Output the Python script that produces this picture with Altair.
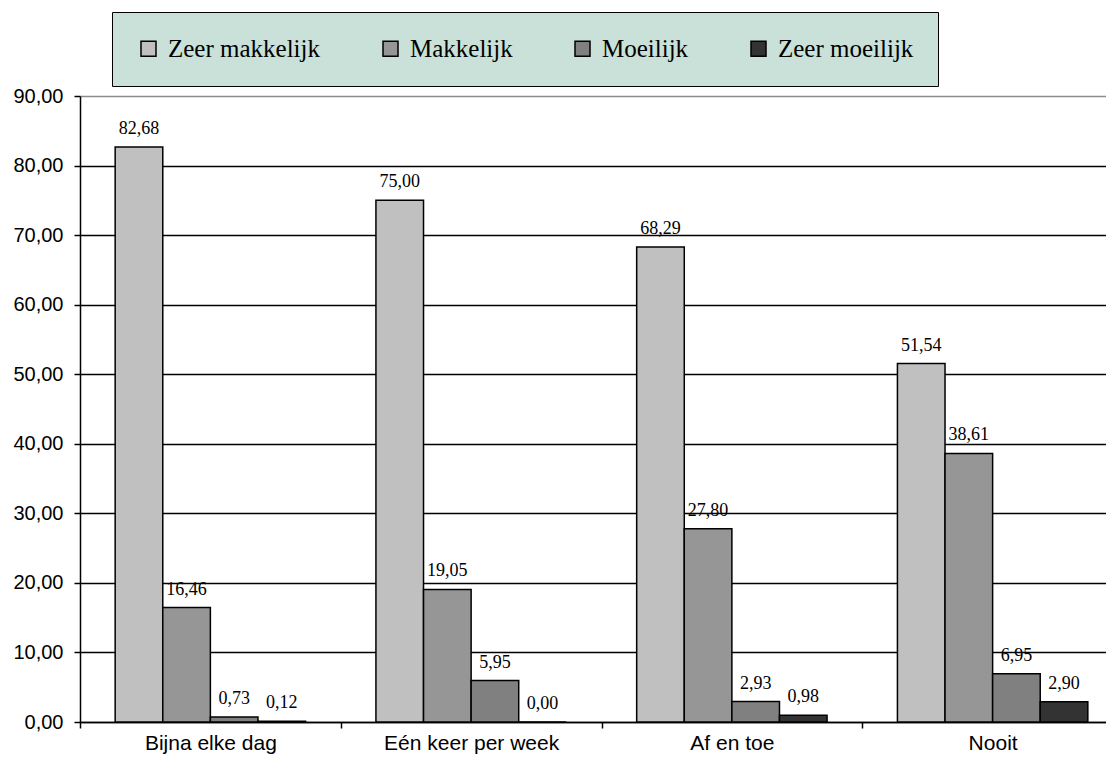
import altair as alt
import pandas as pd

categories = ["Bijna elke dag", "Eén keer per week", "Af en toe", "Nooit"]
series = ["Zeer makkelijk", "Makkelijk", "Moeilijk", "Zeer moeilijk"]
zeer_makkelijk = [82.68, 75.00, 68.29, 51.54]
makkelijk = [16.46, 19.05, 27.80, 38.61]
moeilijk = [0.73, 5.95, 2.93, 6.95]
zeer_moeilijk = [0.12, 0.00, 0.98, 2.90]
colors = ["#C0C0C0", "#969696", "#808080", "#333333"]
y_ticks = [0, 10, 20, 30, 40, 50, 60, 70, 80, 90]

rows = []
for s, vals in zip(series, [zeer_makkelijk, makkelijk, moeilijk, zeer_moeilijk]):
    for c, v in zip(categories, vals):
        rows.append({"categorie": c, "reeks": s, "waarde": v,
                     "label": f"{v:.2f}".replace(".", ",")})
df = pd.DataFrame(rows)

x = alt.X(
    "categorie:N", sort=categories,
    scale=alt.Scale(range=[0, 1043], paddingInner=0, paddingOuter=0),
    axis=alt.Axis(title=None, labelAngle=0, tickBand="extent",
                  labelFont="Liberation Sans", labelFontSize=21, labelColor="black",
                  labelPadding=4, tickSize=6, tickColor="black", tickWidth=1.5,
                  domainColor="black", domainWidth=1.5, grid=False),
)
xoff = alt.XOffset("reeks:N", sort=series,
                   scale=alt.Scale(paddingInner=0, paddingOuter=0.739))
y = alt.Y(
    "waarde:Q", scale=alt.Scale(domain=[0, 90], nice=False),
    axis=alt.Axis(title=None, values=y_ticks,
                  labelExpr="replace(format(datum.value, '.2f'), '.', ',')",
                  labelFont="Liberation Sans", labelFontSize=20, labelColor="black",
                  labelPadding=11, tickSize=6, tickColor="black", tickWidth=1.5,
                  domainColor="black", domainWidth=1.5,
                  gridColor={"condition": {"test": "datum.value == 90", "value": "#8C8C8C"},
                             "value": "black"},
                  gridWidth=1.5),
)
color = alt.Color(
    "reeks:N", sort=series,
    scale=alt.Scale(domain=series, range=colors),
    legend=alt.Legend(title=None, orient="none", legendX=32, legendY=-84,
                      direction="horizontal", columns=4, symbolType="square",
                      symbolSize=225, symbolStrokeColor="black", symbolStrokeWidth=1.5,
                      labelFont="Liberation Serif", labelFontSize=25, labelColor="black",
                      labelOffset=7, columnPadding=57, fillColor="#C9E1D9",
                      strokeColor="black", padding=24, labelLimit=0),
)

bars = alt.Chart().mark_bar(stroke="black", strokeWidth=1.5).encode(
    x=x, xOffset=xoff, y=y, color=color
)
labels = alt.Chart().mark_text(font="Liberation Serif", fontSize=18, dy=-13,
                               baseline="alphabetic", color="black").encode(
    x=x, xOffset=xoff, y=y, text="label:N"
)

chart = alt.layer(bars, labels, data=df).properties(
    width=1026, height=626,
    autosize=alt.AutoSizeParams(type="none"),
    padding={"left": 72, "top": 88, "right": 0, "bottom": 32},
).configure_view(stroke=None)

chart.save("out.html", embed_options={"renderer": "svg", "actions": False})
